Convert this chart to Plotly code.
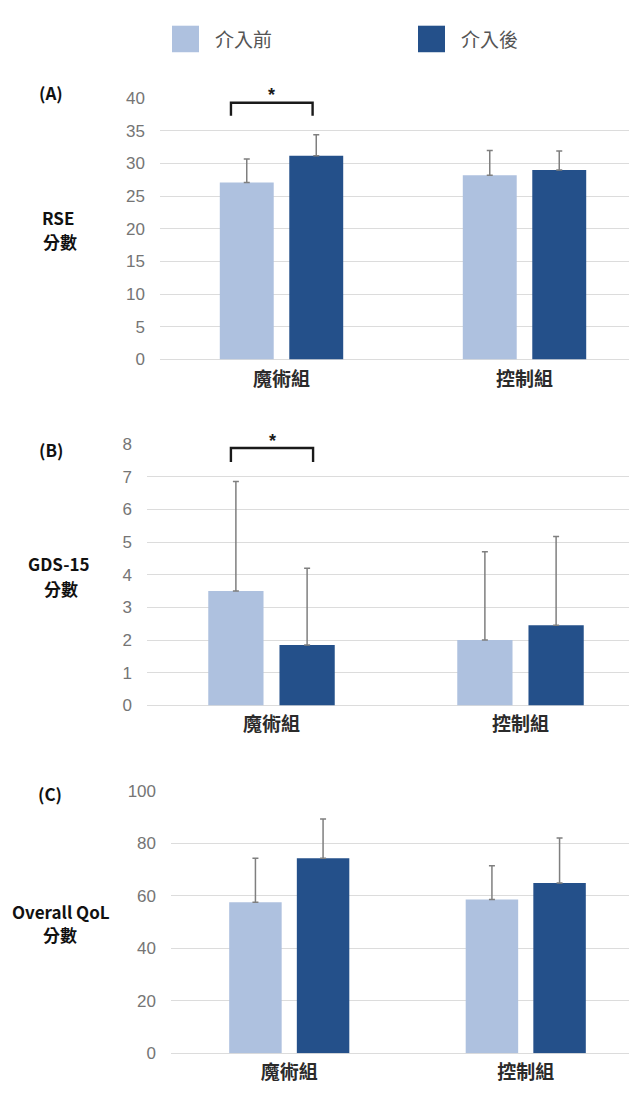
import plotly.graph_objects as go

# ---- data ----
categories = ["魔術組", "控制組"]
series = ["介入前", "介入後"]

rse_pre = [27.1, 28.2]
rse_pre_sd = [3.6, 3.8]
rse_post = [31.2, 29.0]
rse_post_sd = [3.2, 2.9]

gds_pre = [3.5, 2.0]
gds_pre_sd = [3.35, 2.7]
gds_post = [1.85, 2.45]
gds_post_sd = [2.35, 2.72]

qol_pre = [57.6, 58.6]
qol_pre_sd = [16.7, 12.9]
qol_post = [74.3, 64.9]
qol_post_sd = [15.0, 17.1]

rse_ticks = [0, 5, 10, 15, 20, 25, 30, 35, 40]
gds_ticks = [0, 1, 2, 3, 4, 5, 6, 7, 8]
qol_ticks = [0, 20, 40, 60, 80, 100]

panel_tags = ["(A)", "(B)", "(C)"]
panel_titles = [["RSE", "分數"], ["GDS-15", "分數"], ["Overall QoL", "分數"]]

# ---- style ----
W, H = 629, 1095
LIGHT = "#aec1df"
DARK = "#24508a"
ERR = "#7f7f7f"
GRID = "#dcdcdc"
TICK_FONT = dict(family="Liberation Sans, Arial, sans-serif", size=17, color="#757575")
CAT_FONT = dict(family="Noto Sans CJK TC, sans-serif", size=19, color="#2b2b2b", weight="bold")
LABEL_FONT = dict(family="Noto Sans CJK TC, Noto Sans, sans-serif", size=17, color="#111111")

# pixel layout for each panel: plot left edge, top, bottom, category spacing
panels = [
    dict(left=160, top=90.7, bottom=356.7, step=243.0),
    dict(left=147, top=442.7, bottom=708.7, step=249.0),
    dict(left=171, top=795.7, bottom=1062.7, step=236.5),
]
data_sets = [
    (rse_pre, rse_pre_sd, rse_post, rse_post_sd, rse_ticks),
    (gds_pre, gds_pre_sd, gds_post, gds_post_sd, gds_ticks),
    (qol_pre, qol_pre_sd, qol_post, qol_post_sd, qol_ticks),
]

fig = go.Figure()
layout_axes = {}
for i, (p, (pre, pre_sd, post, post_sd, ticks)) in enumerate(zip(panels, data_sets)):
    n = i + 1
    xa = "x" if n == 1 else f"x{n}"
    ya = "y" if n == 1 else f"y{n}"
    for name, vals, sd, col in [(series[0], pre, pre_sd, LIGHT), (series[1], post, post_sd, DARK)]:
        fig.add_trace(go.Bar(
            x=categories, y=vals, name=name, marker_color=col, marker_line_width=0,
            showlegend=False, xaxis=xa, yaxis=ya,
            error_y=dict(type="data", symmetric=False, array=sd,
                         arrayminus=[0] * len(sd), color=ERR, thickness=1.5, width=3),
        ))
    span = (W - p["left"]) / p["step"]
    layout_axes[f"xaxis{'' if n == 1 else n}"] = dict(
        domain=[p["left"] / W, 1], range=[-0.5, -0.5 + span], anchor=ya,
        showgrid=False, zeroline=False, showline=False, ticks="",
        tickfont=CAT_FONT, ticklabelstandoff=6, fixedrange=True,
    )
    layout_axes[f"yaxis{'' if n == 1 else n}"] = dict(
        domain=[1 - p["bottom"] / H, 1 - p["top"] / H], range=[0, ticks[-1]],
        tickvals=ticks, showgrid=True, gridcolor=GRID, gridwidth=1,
        zeroline=True, zerolinecolor=GRID, zerolinewidth=1, showline=False,
        anchor=xa, tickfont=TICK_FONT, ticklabelstandoff=14, fixedrange=True,
    )

fig.update_layout(
    width=W, height=H, margin=dict(l=0, r=0, t=0, b=0),
    paper_bgcolor="white", plot_bgcolor="white",
    barmode="group", bargap=0.428, bargroupgap=0.224,
    showlegend=False, **layout_axes,
)

annotations = []
shapes = []

# panel tags and two-line y-axis titles
tag_pos = [(51, 85), (51, 448), (50, 798)]
title_pos = [[(58, 212), (60, 237)], [(58.5, 564), (61, 590)], [(61, 918), (60, 942)]]
for tag, (tx, ty), lines, pos in zip(panel_tags, tag_pos, panel_titles, title_pos):
    annotations.append(dict(xref="paper", yref="paper", x=tx / W, y=1 - ty / H,
                            text=f"<b>{tag}</b>", showarrow=False, font=LABEL_FONT,
                            xanchor="center", yanchor="middle"))
    for line, (lx, ly) in zip(lines, pos):
        annotations.append(dict(xref="paper", yref="paper", x=lx / W, y=1 - ly / H,
                                text=f"<b>{line}</b>", showarrow=False, font=LABEL_FONT,
                                xanchor="center", yanchor="middle"))

# significance brackets (panels A and B)
brackets = [
    dict(xref="x", yref="y", ydom="y domain", x0=-0.208, x1=0.128, low=37.3, high=39.3),
    dict(xref="x2", yref="y2", ydom="y2 domain", x0=-0.163, x1=0.167, low=7.45, high=7.88),
]
for b in brackets:
    shapes.append(dict(
        type="path", xref=b["xref"], yref=b["yref"],
        path=f"M {b['x0']},{b['low']} L {b['x0']},{b['high']} L {b['x1']},{b['high']} L {b['x1']},{b['low']}",
        line=dict(color="#1a1a1a", width=2.4),
    ))
    annotations.append(dict(xref=b["xref"], yref=b["ydom"], x=(b["x0"] + b["x1"]) / 2,
                            y=1.012, text="<b>*</b>", showarrow=False,
                            font=dict(family="Liberation Sans, Arial", size=18, color="#1a1a1a"),
                            xanchor="center", yanchor="middle"))

# legend drawn at the top
legend_items = [(series[0], LIGHT, 172), (series[1], DARK, 418)]
for name, col, x0 in legend_items:
    shapes.append(dict(type="rect", xref="paper", yref="paper",
                       x0=x0 / W, x1=(x0 + 27) / W, y0=1 - 44 / H, y1=1 - 17 / H,
                       fillcolor=col, line=dict(width=0)))
    annotations.append(dict(xref="paper", yref="paper", x=(x0 + 41) / W, y=1 - 30.5 / H,
                            text=name, showarrow=False, xanchor="left", yanchor="middle",
                            font=dict(family="Noto Sans CJK TC, sans-serif", size=19, color="#555555")))

fig.update_layout(annotations=annotations, shapes=shapes)
fig.write_html("out.html")
